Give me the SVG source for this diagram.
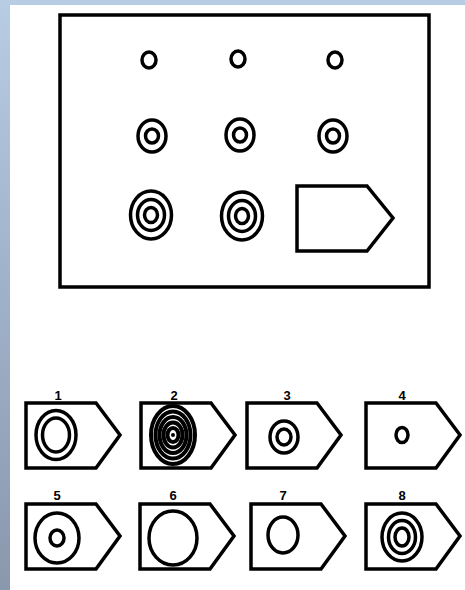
<svg xmlns="http://www.w3.org/2000/svg" width="465" height="590" viewBox="0 0 465 590">
<defs>
<linearGradient id="bg" x1="0" y1="0" x2="0" y2="1">
<stop offset="0" stop-color="#b8cce4"/>
<stop offset="0.5" stop-color="#9fb1c9"/>
<stop offset="1" stop-color="#8a98ad"/>
</linearGradient>
<polygon id="pent" points="0,0 70,0 94,32 70,65 0,65"/>
</defs>
<style>
.s{fill:none;stroke:#000;stroke-width:3.5}
.d{fill:none;stroke:#000;stroke-width:4}
.lbl{font-family:"Liberation Sans",Arial,sans-serif;font-size:13px;font-weight:bold;fill:#000;text-anchor:middle}
</style>
<rect x="0" y="0" width="465" height="590" fill="url(#bg)"/>
<rect x="10" y="5" width="455" height="585" fill="#fff"/>

<g id="matrix">
<rect class="s" x="60" y="15" width="369" height="272"/>
<g id="r1c1"><ellipse class="s" cx="149" cy="60" rx="7" ry="8"/></g>
<g id="r1c2"><ellipse class="s" cx="238" cy="59" rx="7" ry="8"/></g>
<g id="r1c3"><ellipse class="s" cx="335" cy="60" rx="7" ry="8"/></g>
<g id="r2c1"><ellipse class="s" cx="152" cy="136" rx="14" ry="16"/><ellipse class="s" cx="152" cy="136" rx="6.5" ry="7"/></g>
<g id="r2c2"><ellipse class="s" cx="240" cy="135" rx="14" ry="16"/><ellipse class="s" cx="240" cy="135" rx="6.5" ry="7"/></g>
<g id="r2c3"><ellipse class="s" cx="333" cy="136" rx="14" ry="16"/><ellipse class="s" cx="333" cy="136" rx="6.5" ry="7"/></g>
<g id="r3c1"><ellipse class="s" cx="151" cy="215" rx="20.5" ry="24"/><ellipse class="s" cx="151" cy="215" rx="13.5" ry="15.5"/><ellipse class="s" cx="151" cy="215" rx="6.5" ry="7.5"/></g>
<g id="r3c2"><ellipse class="s" cx="242" cy="216" rx="20.5" ry="24"/><ellipse class="s" cx="242" cy="216" rx="13.5" ry="15.5"/><ellipse class="s" cx="242" cy="216" rx="6.5" ry="7.5"/></g>
<g id="r3c3"><polygon class="s" points="297,186 367,186 393,218 367,251 297,251"/></g>
</g>

<g id="opt1">
<use href="#pent" class="s" x="26" y="403"/>
<ellipse class="s" cx="56" cy="435" rx="20" ry="24.5"/><ellipse class="s" cx="56" cy="435" rx="13.5" ry="17"/>
<text class="lbl" x="58" y="400">1</text>
</g>
<g id="opt2">
<use href="#pent" class="s" x="141" y="403"/>
<ellipse class="d" cx="173" cy="435" rx="22" ry="29"/>
<ellipse class="d" cx="173" cy="435" rx="17.5" ry="23.5"/>
<ellipse class="d" cx="173" cy="435" rx="13.5" ry="18"/>
<ellipse class="d" cx="173" cy="435" rx="9.5" ry="12.5"/>
<ellipse class="d" cx="173" cy="435" rx="5.5" ry="7"/>
<ellipse cx="173" cy="435" rx="2" ry="2" fill="#000"/>
<text class="lbl" x="174" y="400">2</text>
</g>
<g id="opt3">
<use href="#pent" class="s" x="247" y="403"/>
<ellipse class="s" cx="284" cy="437" rx="14" ry="16"/><ellipse class="s" cx="284" cy="437" rx="7" ry="8"/>
<text class="lbl" x="287" y="400">3</text>
</g>
<g id="opt4">
<use href="#pent" class="s" x="366" y="403"/>
<ellipse class="s" cx="402" cy="435" rx="6" ry="7.5"/>
<text class="lbl" x="402" y="400">4</text>
</g>
<g id="opt5">
<use href="#pent" class="s" x="26" y="504"/>
<ellipse class="s" cx="57" cy="538" rx="22" ry="25"/><ellipse class="s" cx="57" cy="538" rx="7" ry="8"/>
<text class="lbl" x="57" y="500">5</text>
</g>
<g id="opt6">
<use href="#pent" class="s" x="140" y="504"/>
<ellipse class="s" cx="173" cy="538" rx="24" ry="27"/>
<text class="lbl" x="173" y="500">6</text>
</g>
<g id="opt7">
<use href="#pent" class="s" x="251" y="504"/>
<ellipse class="s" cx="283" cy="535" rx="15" ry="18"/>
<text class="lbl" x="283" y="500">7</text>
</g>
<g id="opt8">
<use href="#pent" class="s" x="366" y="504"/>
<ellipse class="s" cx="402" cy="537" rx="20" ry="24"/><ellipse class="s" cx="402" cy="537" rx="13.5" ry="16.5"/><ellipse class="s" cx="402" cy="537" rx="7" ry="9"/>
<text class="lbl" x="402" y="500">8</text>
</g>
</svg>
